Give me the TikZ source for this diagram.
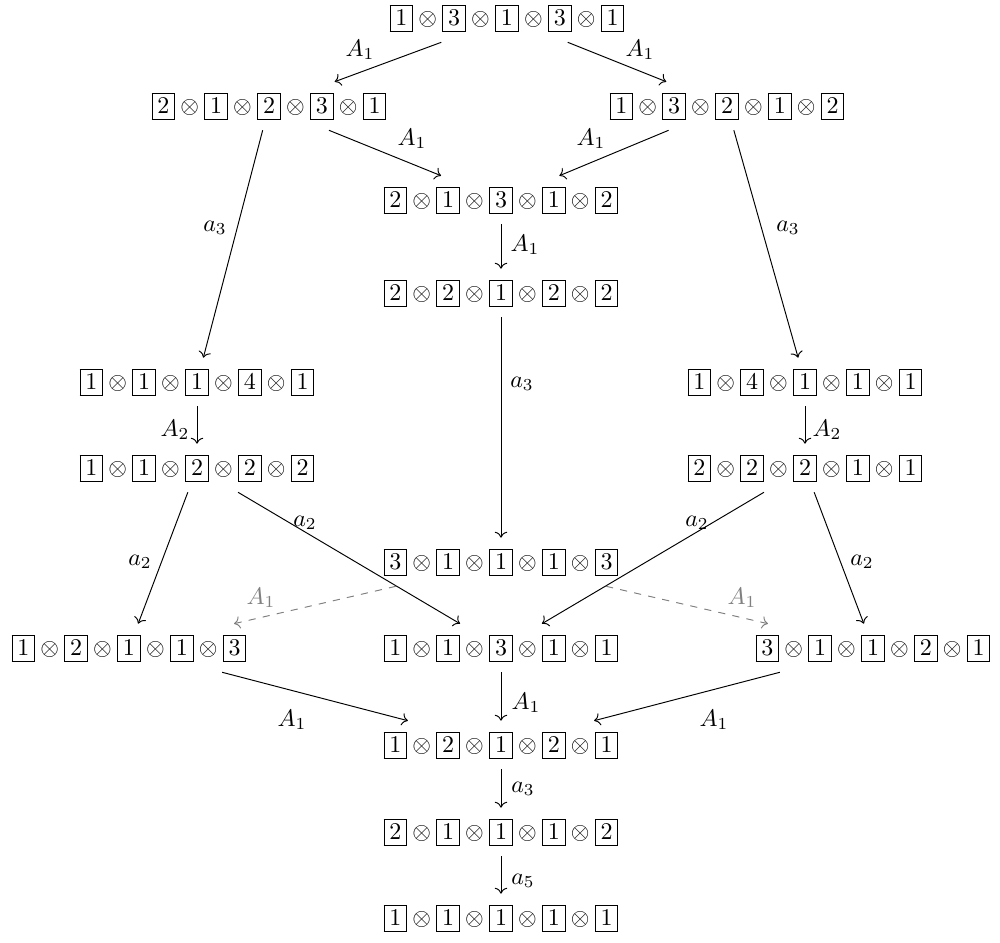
\documentclass[tikz,border=0pt]{standalone}
\usetikzlibrary{arrows.meta}
\setlength{\fboxsep}{2pt}
\newcommand{\bx}[1]{\fbox{$#1$}}
\newcommand{\tens}[5]{$\bx{#1}\otimes\bx{#2}\otimes\bx{#3}\otimes\bx{#4}\otimes\bx{#5}$}
\begin{document}
\begin{tikzpicture}[x=0.4167pt,y=-0.4167pt,
  st/.style={inner sep=3.5pt,outer sep=1pt},
  ar/.style={-{Computer Modern Rightarrow},line width=0.4pt},
  dar/.style={ar,dashed,gray},
  lab/.style={inner sep=0pt},
  glab/.style={lab,text=gray}]
\useasboundingbox (0,0) rectangle (1000,943);
\node[st] (n1) at (507,18) {\tens13131};
\node[st] (n2L) at (269,106) {\tens21231};
\node[st] (n2R) at (727,106) {\tens13212};
\node[st] (n4) at (501,200) {\tens21312};
\node[st] (n5) at (501,293) {\tens22122};
\node[st] (n6L) at (197,382) {\tens11141};
\node[st] (n6R) at (805,382) {\tens14111};
\node[st] (n7L) at (197,468) {\tens11222};
\node[st] (n7R) at (805,468) {\tens22211};
\node[st] (n8) at (501,562) {\tens31113};
\node[st] (n9L) at (129,648) {\tens12113};
\node[st] (n9M) at (501,648) {\tens11311};
\node[st] (n9R) at (873,648) {\tens31121};
\node[st] (n10) at (501,745) {\tens12121};
\node[st] (n11) at (501,832) {\tens21112};
\node[st] (n12) at (501,918) {\tens11111};

\draw[ar] (n1) -- (n2L);
\draw[ar] (n1) -- (n2R);
\draw[ar] (n2L) -- (n4);
\draw[ar] (n2R) -- (n4);
\draw[ar] (n4) -- (n5);
\draw[ar] (n2L) -- (n6L);
\draw[ar] (n2R) -- (n6R);
\draw[ar] (n5) -- (n8);
\draw[ar] (n6L) -- (n7L);
\draw[ar] (n6R) -- (n7R);
\draw[ar] (n7L) -- (n9L);
\draw[ar] (n7L) -- (n9M);
\draw[ar] (n7R) -- (n9M);
\draw[ar] (n7R) -- (n9R);
\draw[dar] (n8) -- (n9L);
\draw[dar] (n8) -- (n9R);
\draw[ar] (n9L) -- (n10);
\draw[ar] (n9M) -- (n10);
\draw[ar] (n9R) -- (n10);
\draw[ar] (n10) -- (n11);
\draw[ar] (n11) -- (n12);

\node[lab] (l1) at (360,50) {$A_1$};
\node[lab] (l2) at (640,50) {$A_1$};
\node[lab] (l3) at (412,139) {$A_1$};
\node[lab] (l4) at (591,139) {$A_1$};
\node[lab] (l5) at (525,245) {$A_1$};
\node[lab] (l6) at (215,228) {$a_3$};
\node[lab] (l7) at (788,228) {$a_3$};
\node[lab] (l8) at (522,384) {$a_3$};
\node[lab] (l9) at (175,430) {$A_2$};
\node[lab] (l10) at (827,430) {$A_2$};
\node[lab] (l11) at (140,562) {$a_2$};
\node[lab] (l12) at (305,523) {$a_2$};
\node[lab] (l13) at (697,523) {$a_2$};
\node[lab] (l14) at (862,562) {$a_2$};
\node[glab] (l15) at (261,598) {$A_1$};
\node[glab] (l16) at (742,598) {$A_1$};
\node[lab] (l17) at (292,720) {$A_1$};
\node[lab] (l18) at (526,703) {$A_1$};
\node[lab] (l19) at (714,720) {$A_1$};
\node[lab] (l20) at (523,789) {$a_3$};
\node[lab] (l21) at (523,881) {$a_5$};
\end{tikzpicture}
\end{document}
